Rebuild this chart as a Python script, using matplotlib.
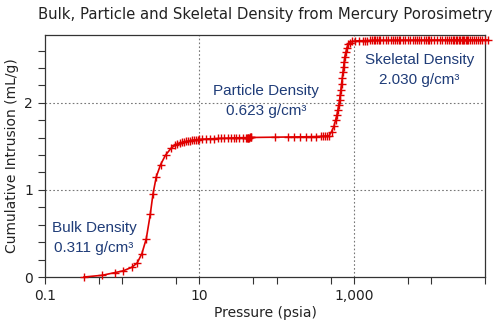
import matplotlib
matplotlib.use("Agg")
import matplotlib.pyplot as plt
from matplotlib.ticker import FixedLocator, FixedFormatter, NullFormatter

# Data (pressure in psia, cumulative intrusion in mL/g)
pressure = [0.32, 0.55, 0.80, 1.02, 1.32, 1.56, 1.80, 2.05, 2.31, 2.50, 2.76, 3.14, 3.64, 4.31,
            4.8, 5.2, 5.6, 6.0, 6.4, 6.8, 7.2, 7.6, 8.0, 8.5, 9.0, 9.5, 10.0,
            10.8, 12.2, 13.7, 15.6, 17.2, 19.0, 21.0, 23.2, 25.6, 28.3, 30.2, 32.8, 36.2,
            40, 41, 42, 43, 44, 45, 46, 47,
            95.6, 142, 168, 199, 238, 276, 326, 372, 400, 425, 450,
            475, 515, 552, 580, 604, 622, 640, 653, 667, 680, 693, 708, 722, 736, 750, 765,
            789, 812, 844, 887, 950, 1050, 1160,
            1300, 1400, 1500, 1600, 1700, 1800, 1900, 2000, 2100, 2200, 2400, 2600, 2800,
            3000, 3200, 3400, 3600, 3800, 4000, 4300, 4600, 5000, 5400, 5800, 6200, 6600,
            7000, 7500, 8000, 8500, 9000, 9500, 10000, 11000, 12000, 13000, 14000, 15000,
            16000, 17000, 18000, 19000, 20000, 21000, 22000, 23000, 24000, 25000, 26000,
            27000, 28000, 29000, 30000, 32000, 34000, 36000, 38000, 40000, 43000, 46000,
            50000, 54000]
intrusion = [0.00, 0.02, 0.05, 0.07, 0.11, 0.16, 0.27, 0.44, 0.72, 0.95, 1.15, 1.29, 1.40, 1.48,
             1.51, 1.525, 1.535, 1.545, 1.55, 1.557, 1.562, 1.566, 1.57, 1.573, 1.576, 1.578, 1.58,
             1.582, 1.585, 1.587, 1.589, 1.591, 1.592, 1.594, 1.595, 1.596, 1.597, 1.598, 1.599, 1.60,
             1.60, 1.60, 1.601, 1.601, 1.601, 1.602, 1.602, 1.602,
             1.605, 1.607, 1.608, 1.609, 1.61, 1.611, 1.612, 1.614, 1.615, 1.617, 1.619,
             1.62, 1.67, 1.73, 1.80, 1.86, 1.92, 1.98, 2.03, 2.09, 2.15, 2.22, 2.28, 2.35, 2.41, 2.47, 2.53,
             2.58, 2.63, 2.67, 2.69, 2.705, 2.71, 2.713,
             2.714, 2.715, 2.715, 2.716, 2.716, 2.716, 2.717, 2.717, 2.717, 2.717, 2.718, 2.718, 2.718,
             2.718, 2.718, 2.719, 2.719, 2.719, 2.719, 2.719, 2.719, 2.72, 2.72, 2.72, 2.72, 2.72,
             2.72, 2.72, 2.72, 2.72, 2.72, 2.72, 2.72, 2.721, 2.721, 2.721, 2.721, 2.721,
             2.721, 2.721, 2.721, 2.721, 2.721, 2.721, 2.721, 2.721, 2.721, 2.722, 2.722,
             2.722, 2.722, 2.722, 2.722, 2.722, 2.722, 2.722, 2.722, 2.722, 2.722, 2.722,
             2.722, 2.722]

x_major = [0.1, 10, 1000]
x_major_labels = ["0.1", "10", "1,000"]
x_minor = [0.5, 1, 5, 50, 100, 500, 5000, 10000, 50000]
y_major = [0, 1, 2]
y_minor = [0.2, 0.4, 0.6, 0.8, 1.2, 1.4, 1.6, 1.8, 2.2, 2.4, 2.6]

annotations = [
    ("Bulk Density\n0.311 g/cm³", 0.43, 0.45),
    ("Particle Density\n0.623 g/cm³", 73, 2.02),
    ("Skeletal Density\n2.030 g/cm³", 7100, 2.38),
]

fig = plt.figure(figsize=(5.0, 3.29), dpi=100)
ax = fig.add_axes([0.09, 0.158, 0.88, 0.736])

ax.set_xscale("log")
ax.set_xlim(0.1, 50000)
ax.set_ylim(0, 2.78)

ax.plot(pressure, intrusion, color="#e00000", lw=1.2, marker="+", ms=6, mew=1.0,
        clip_on=False, zorder=3)

ax.xaxis.set_major_locator(FixedLocator(x_major))
ax.xaxis.set_major_formatter(FixedFormatter(x_major_labels))
ax.xaxis.set_minor_locator(FixedLocator(x_minor))
ax.xaxis.set_minor_formatter(NullFormatter())
ax.yaxis.set_major_locator(FixedLocator(y_major))
ax.yaxis.set_minor_locator(FixedLocator(y_minor))

ax.tick_params(which="both", direction="out", length=5, width=0.8, color="#333333",
               labelsize=10, labelcolor="#222222")

for v in [10, 1000]:
    ax.axvline(v, color="#777777", ls=(0, (1.5, 2)), lw=0.8, zorder=1)
for v in [1, 2]:
    ax.axhline(v, color="#777777", ls=(0, (1.5, 2)), lw=0.8, zorder=1)

for s in ax.spines.values():
    s.set_color("#333333")
    s.set_linewidth(0.9)

for txt, xx, yy in annotations:
    ax.text(xx, yy, txt, ha="center", va="center", multialignment="center",
            color="#1f3c78", fontsize=11, family="Liberation Sans", linespacing=1.55)

ax.set_xlabel("Pressure (psia)", fontsize=10, color="#222222", labelpad=2)
ax.set_ylabel("Cumulative Intrusion (mL/g)", fontsize=10, color="#222222")
ax.yaxis.set_label_coords(-0.06, 0.5)
fig.suptitle("Bulk, Particle and Skeletal Density from Mercury Porosimetry",
             fontsize=10.7, color="#222222", x=0.53, y=0.98)

fig.savefig("out.png", dpi=100)
